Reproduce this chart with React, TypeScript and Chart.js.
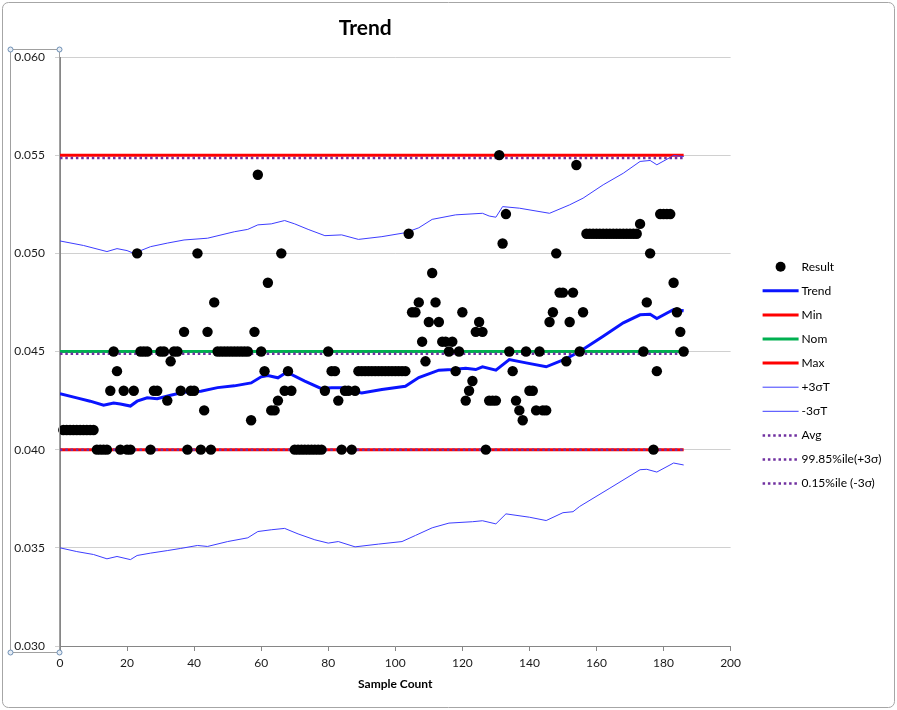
import { useEffect, useRef } from 'react'
import { Chart, registerables } from 'chart.js'

Chart.register(...registerables)

// Result values, one per sample (sample count 1..186)
const resultValues = [
  0.041, 0.041, 0.041, 0.041, 0.041, 0.041, 0.041, 0.041, 0.041, 0.041,
  0.040, 0.040, 0.040, 0.040,
  0.043, 0.045, 0.044, 0.040, 0.043, 0.040, 0.040, 0.043,
  0.050, 0.045, 0.045, 0.045, 0.040, 0.043, 0.043, 0.045, 0.045,
  0.0425, 0.0445, 0.045, 0.045, 0.043, 0.046, 0.040, 0.043, 0.043,
  0.050, 0.040, 0.042, 0.046, 0.040, 0.0475,
  0.045, 0.045, 0.045, 0.045, 0.045, 0.045, 0.045, 0.045, 0.045, 0.045,
  0.0415, 0.046, 0.054, 0.045, 0.044, 0.0485, 0.042, 0.042, 0.0425, 0.050, 0.043, 0.044, 0.043,
  0.040, 0.040, 0.040, 0.040, 0.040, 0.040, 0.040, 0.040, 0.040,
  0.043, 0.045, 0.044, 0.044, 0.0425, 0.040, 0.043, 0.043, 0.040, 0.043,
  0.044, 0.044, 0.044, 0.044, 0.044, 0.044, 0.044, 0.044, 0.044, 0.044, 0.044, 0.044, 0.044, 0.044, 0.044,
  0.051, 0.047, 0.047, 0.0475, 0.0455, 0.0445, 0.0465, 0.049, 0.0475, 0.0465,
  0.0455, 0.0455, 0.045, 0.0455, 0.044, 0.045, 0.047, 0.0425, 0.043, 0.0435,
  0.046, 0.0465, 0.046, 0.040, 0.0425, 0.0425, 0.0425, 0.055, 0.0505, 0.052,
  0.045, 0.044, 0.0425, 0.042, 0.0415, 0.045, 0.043, 0.043, 0.042, 0.045, 0.042, 0.042,
  0.0465, 0.047, 0.050, 0.048, 0.048, 0.0445, 0.0465, 0.048, 0.0545, 0.045, 0.047,
  0.051, 0.051, 0.051, 0.051, 0.051, 0.051, 0.051, 0.051, 0.051, 0.051, 0.051, 0.051, 0.051, 0.051, 0.051, 0.051,
  0.0515, 0.045, 0.0475, 0.050, 0.040, 0.044,
  0.052, 0.052, 0.052, 0.052,
  0.0485, 0.047, 0.046, 0.045,
]

const trendX = [0, 5, 9, 13, 16, 18, 21, 23, 26, 29, 33, 37, 42, 47, 52, 57, 60, 62, 65, 67, 69, 73, 78, 81, 84, 87, 90, 96, 103, 107, 113, 117, 121, 124, 126, 130, 134, 139, 145, 151, 155, 162, 168, 173, 176, 178, 183, 186]
const trendY = [0.04285, 0.04264, 0.04247, 0.04226, 0.04238, 0.04233, 0.04222, 0.04247, 0.04264, 0.04259, 0.04277, 0.04293, 0.04298, 0.04316, 0.04325, 0.0434, 0.04371, 0.04378, 0.04366, 0.04388, 0.04383, 0.04349, 0.04311, 0.04315, 0.04315, 0.04298, 0.04289, 0.04306, 0.04323, 0.04367, 0.04405, 0.04408, 0.04415, 0.04408, 0.04422, 0.04405, 0.04459, 0.04442, 0.04422, 0.04464, 0.045, 0.04578, 0.04646, 0.04687, 0.0469, 0.04668, 0.04714, 0.04707]

const upperX = [0, 7, 14, 17, 20, 22, 27, 32, 37, 44, 52, 56, 59, 63, 67, 70, 74, 79, 84, 89, 96, 103, 107, 111, 118, 126, 128, 130, 132, 137, 146, 152, 156, 162, 168, 173, 176, 178, 183, 186]
const upperY = [0.05063, 0.0504, 0.05009, 0.05024, 0.05014, 0.05, 0.05034, 0.05052, 0.05068, 0.05077, 0.0511, 0.05122, 0.05145, 0.0515, 0.05167, 0.0515, 0.05122, 0.0509, 0.05094, 0.05071, 0.05085, 0.05105, 0.0513, 0.05173, 0.05196, 0.05204, 0.0519, 0.05184, 0.05238, 0.0523, 0.05204, 0.05247, 0.05281, 0.05349, 0.05408, 0.05468, 0.05473, 0.05451, 0.05498, 0.05493]

const lowerX = [0, 5, 10, 14, 17, 21, 23, 27, 32, 36, 41, 44, 50, 56, 59, 63, 67, 71, 76, 80, 83, 88, 95, 102, 106, 111, 116, 123, 126, 130, 133, 140, 145, 150, 153, 155, 164, 173, 175, 178, 183, 186]
const lowerY = [0.035, 0.03481, 0.03466, 0.03444, 0.03456, 0.0344, 0.03461, 0.03473, 0.03486, 0.03497, 0.03512, 0.03507, 0.03532, 0.03551, 0.03583, 0.03592, 0.03599, 0.03571, 0.03541, 0.03524, 0.03532, 0.03505, 0.03519, 0.03532, 0.03563, 0.03602, 0.03626, 0.03633, 0.03638, 0.03622, 0.03673, 0.03656, 0.03639, 0.03679, 0.03684, 0.03711, 0.03804, 0.03898, 0.039, 0.03886, 0.03932, 0.03922]

// limit lines span the whole sample range
const limitX = [0, 186]
const minValue = 0.04
const nomValue = 0.045
const maxValue = 0.055
const avgValue = 0.04488
const pct9985Value = 0.05486
const pct015Value = 0.04

const FONT = 'Lato, "Noto Sans", sans-serif'

const toPoints = (xs: number[], ys: number[]) => xs.map((x, i) => ({ x, y: ys[i] }))
const flat = (v: number) => limitX.map(x => ({ x, y: v }))

const framePlugin = {
  id: 'excelFrame',
  beforeDraw(chart: any) {
    const { ctx, width, height } = chart
    ctx.save()
    ctx.fillStyle = '#fff'
    ctx.fillRect(0, 0, width, height)
    ctx.strokeStyle = '#a6a6a6'
    ctx.lineWidth = 1
    ctx.beginPath()
    ctx.roundRect(2.5, 2.5, width - 5, height - 5, 6)
    ctx.stroke()
    ctx.restore()
  },
  afterDraw(chart: any) {
    const { ctx, chartArea } = chart
    // selected value axis box with handles
    const l = 10.5, r = chartArea.left - 0.5
    const t = chartArea.top - 7.5, b = chartArea.bottom + 6.5
    ctx.save()
    ctx.strokeStyle = '#a0a0a0'
    ctx.lineWidth = 1
    ctx.strokeRect(l, t, r - l, b - t)
    ctx.fillStyle = '#e6edf5'
    ctx.strokeStyle = '#6f90b5'
    for (const [hx, hy] of [[l, t], [r, t], [l, b], [r, b]]) {
      ctx.beginPath()
      ctx.arc(hx, hy, 2.5, 0, Math.PI * 2)
      ctx.fill()
      ctx.stroke()
    }

    // legend on the right
    const x0 = chartArea.right + 32
    const y0 = chartArea.top + 209.7
    const step = 24.1
    ctx.font = `12px ${FONT}`
    ctx.textBaseline = 'middle'
    chart.data.datasets.forEach((ds: any, i: number) => {
      const y = y0 + i * step
      if (ds.showLine === false) {
        ctx.fillStyle = ds.pointBackgroundColor
        ctx.beginPath()
        ctx.arc(x0 + 18, y, 5, 0, Math.PI * 2)
        ctx.fill()
      } else {
        ctx.strokeStyle = ds.borderColor
        ctx.lineWidth = ds.borderWidth
        ctx.setLineDash(ds.borderDash || [])
        ctx.beginPath()
        ctx.moveTo(x0, y)
        ctx.lineTo(x0 + 36, y)
        ctx.stroke()
        ctx.setLineDash([])
      }
      ctx.fillStyle = '#000'
      ctx.fillText(ds.label, x0 + 39, y)
    })
    ctx.restore()
  },
}

export default function App() {
  const chartRef = useRef<HTMLCanvasElement>(null)

  useEffect(() => {
    document.body.style.margin = '0'
    if (!chartRef.current) return
    const ctx = chartRef.current.getContext('2d')
    if (!ctx) return

    const dotted = { borderColor: '#7030a0', borderWidth: 2.5, borderDash: [2.5, 2.8] }

    const chart = new Chart(ctx, {
      type: 'scatter',
      data: {
        datasets: [
          {
            label: 'Result',
            data: resultValues.map((v, i) => ({ x: i + 1, y: v })),
            showLine: false,
            pointRadius: 5.2,
            pointBorderWidth: 0,
            pointBackgroundColor: '#000',
            pointBorderColor: '#000',
            clip: false,
            order: 0,
          },
          { label: 'Trend', data: toPoints(trendX, trendY), showLine: true, borderColor: '#0a14ff', borderWidth: 3, pointRadius: 0, order: 9 },
          { label: 'Min', data: flat(minValue), showLine: true, borderColor: '#ff0000', borderWidth: 3, pointRadius: 0, order: 8 },
          { label: 'Nom', data: flat(nomValue), showLine: true, borderColor: '#00b050', borderWidth: 3, pointRadius: 0, order: 7 },
          { label: 'Max', data: flat(maxValue), showLine: true, borderColor: '#ff0000', borderWidth: 3, pointRadius: 0, order: 6 },
          { label: '+3σT', data: toPoints(upperX, upperY), showLine: true, borderColor: '#3d3dff', borderWidth: 1, pointRadius: 0, order: 5 },
          { label: '-3σT', data: toPoints(lowerX, lowerY), showLine: true, borderColor: '#3d3dff', borderWidth: 1, pointRadius: 0, order: 4 },
          { label: 'Avg', data: flat(avgValue), showLine: true, ...dotted, pointRadius: 0, order: 3 },
          { label: '99.85%ile(+3σ)', data: flat(pct9985Value), showLine: true, ...dotted, pointRadius: 0, order: 2 },
          { label: '0.15%ile (-3σ)', data: flat(pct015Value), showLine: true, ...dotted, pointRadius: 0, order: 1 },
        ],
      },
      options: {
        animation: false,
        responsive: true,
        maintainAspectRatio: false,
        layout: { padding: { left: 0, top: 0, right: 166.4, bottom: 0 } },
        plugins: {
          legend: { display: false },
          tooltip: { enabled: false },
          title: {
            display: true,
            text: 'Trend',
            color: '#000',
            font: { family: FONT, size: 21, weight: 'bold' },
            padding: { top: 15.5, bottom: 16.3 },
          },
        },
        scales: {
          x: {
            type: 'linear',
            min: 0,
            max: 200,
            ticks: { stepSize: 20, color: '#1a1a1a', padding: 5, font: { family: FONT, size: 12 } },
            grid: { drawOnChartArea: false, drawTicks: true, tickLength: 5, color: '#868686' },
            border: { color: '#868686' },
            title: {
              display: true,
              text: 'Sample Count',
              color: '#000',
              font: { family: FONT, size: 12, weight: 'bold' },
              padding: { top: 4, bottom: 18.8 },
            },
            afterFit: (scale: any) => { scale.height = 64 },
          },
          y: {
            min: 0.03,
            max: 0.06,
            ticks: {
              stepSize: 0.005,
              color: '#1a1a1a',
              padding: 10,
              font: { family: FONT, size: 12 },
              callback: (v: any) => Number(v).toFixed(3),
            },
            grid: { color: '#d0d0d0', tickLength: 5 },
            border: { color: '#868686' },
            afterFit: (scale: any) => { scale.width = 60 },
          },
        },
      },
      plugins: [framePlugin],
    } as any)

    return () => chart.destroy()
  }, [])

  return (
    <div style={{ width: 897, height: 710, position: 'relative' }}>
      <canvas ref={chartRef} />
    </div>
  )
}
